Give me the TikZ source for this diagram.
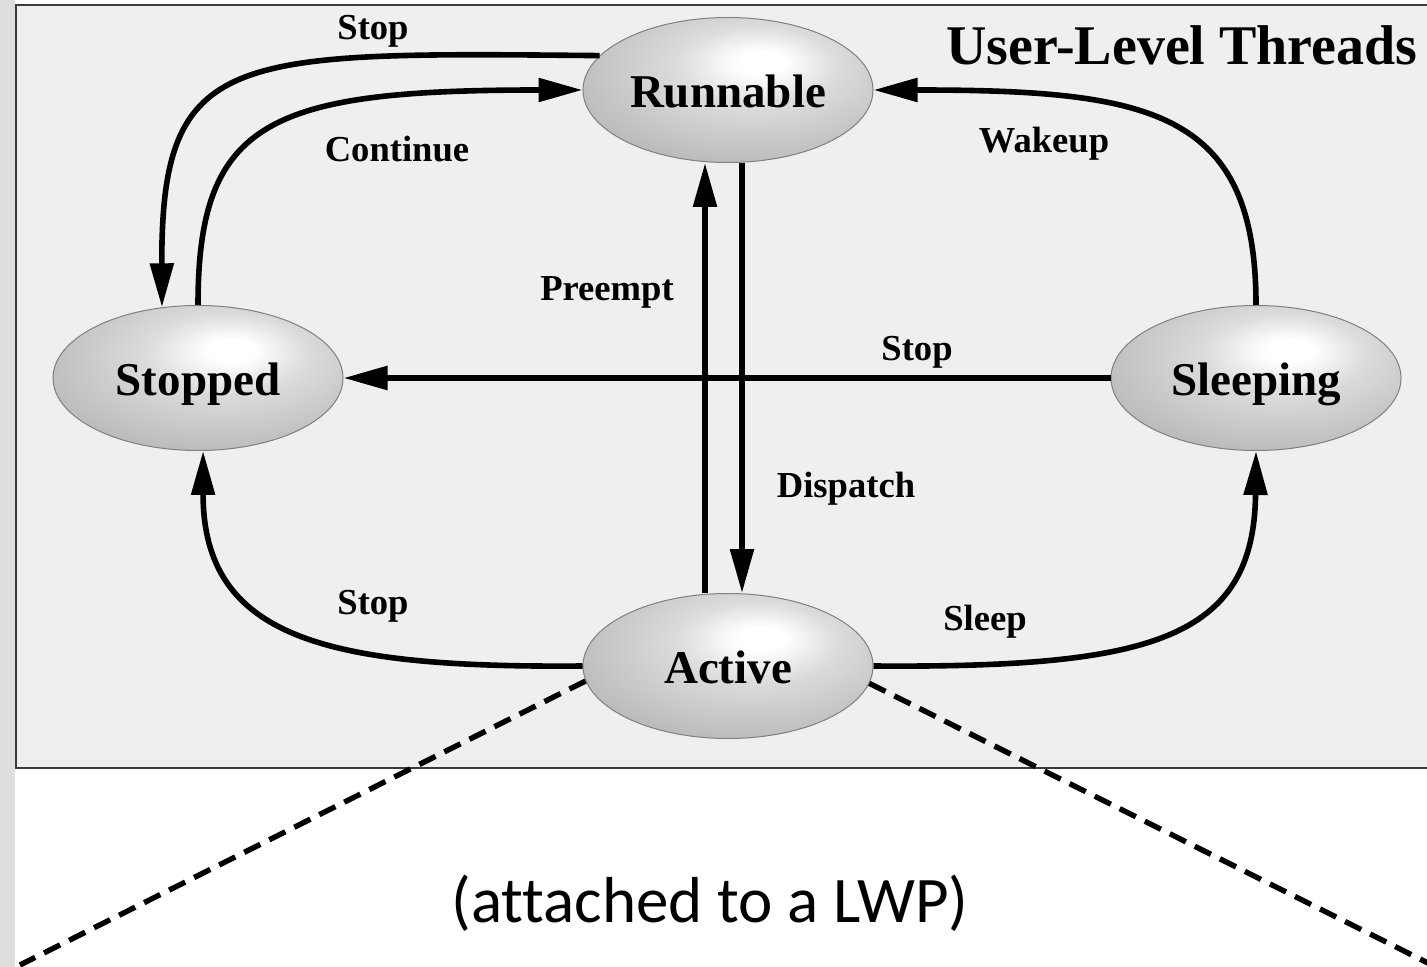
\documentclass[tikz,border=0pt]{standalone}
\usepackage{fontspec}
\setmainfont{Liberation Serif}
\newfontfamily\lwpfont[Ligatures=NoCommon]{Carlito}
\usetikzlibrary{arrows.meta,shapes.geometric,calc}
\definecolor{panel}{HTML}{EFEFEF}
\definecolor{strip}{HTML}{DCDEDF}
\definecolor{frame}{HTML}{3A3A3A}
\definecolor{rim}{HTML}{808080}
\pgfdeclareradialshading{glow}{\pgfpoint{6bp}{10bp}}{color(0bp)=(white); color(4bp)=(white); color(14bp)=(black!14); color(28bp)=(black!24); color(42bp)=(black!34); color(52bp)=(black!40); color(80bp)=(black!42)}
\begin{document}
\begin{tikzpicture}[x=0.5pt,y=-0.5pt,
  state/.style={ellipse, draw=rim, line width=0.5pt, shade, shading=glow,
    minimum width=145pt, minimum height=72.5pt, inner sep=0pt,
    font=\fontsize{23.5}{26}\selectfont\bfseries, text height=17.6pt, text depth=0pt},
  trans/.style={line width=2.8pt, -{Triangle[length=22pt,width=11.5pt]}},
  lbl/.style={font=\fontsize{18.3}{20}\selectfont\bfseries, anchor=base, inner sep=0pt},
  link/.style={line width=2.7pt, dash pattern=on 9pt off 5pt}]
\useasboundingbox (0,0) rectangle (1427,967);
\fill[white] (0,0) rectangle (1427,967);
\fill[strip] (0,0) rectangle (15,967);
\draw[frame, fill=panel, line width=1pt] (16,5) rectangle (1440,768);

\node[state] (Runnable) at (728,90) {Runnable};
\node[state] (Stopped) at (198,378) {Stopped};
\node[state] (Sleeping) at (1256,378) {Sleeping};
\node[state] (Active) at (728,666) {Active};

\node[font=\fontsize{28}{30}\selectfont\bfseries, anchor=base, inner sep=0pt] (title) at (1182,65) {User-Level Threads};

\draw[trans] (Runnable.165) .. controls (230,52) and (161,50) .. (Stopped.117);
\draw[trans] (Stopped.north) .. controls (198,120) and (270,90) .. (Runnable.west);
\draw[trans] (Sleeping.north) .. controls (1256,110) and (1150,90) .. (Runnable.east);
\draw[trans] (Sleeping.west) -- (Stopped.east);
\draw[trans] ($(Active.north)+(-23,0)$) -- ($(Runnable.south)+(-23,0)$);
\draw[trans] ($(Runnable.south)+(14,0)$) -- ($(Active.north)+(14,0)$);
\draw[trans] (Active.west) .. controls (330,668) and (203,640) .. (Stopped.-86);
\draw[trans] (Active.east) .. controls (1150,668) and (1254,640) .. (Sleeping.south);

\node[lbl] (l1) at (373,40) {Stop};
\node[lbl] (l2) at (397,162) {Continue};
\node[lbl] (l3) at (1044,153) {Wakeup};
\node[lbl] (l4) at (607,301) {Preempt};
\node[lbl] (l5) at (917,361) {Stop};
\node[lbl] (l6) at (846,497) {Dispatch};
\node[lbl] (l7) at (373,614) {Stop};
\node[lbl] (l8) at (985,630) {Sleep};

\coordinate (dl) at (20,965);
\coordinate (dr) at (1432,965);
\draw[link] (Active.186) -- (dl);
\draw[link] (Active.353) -- (dr);

\node[font=\lwpfont\fontsize{32.5}{34}\selectfont, anchor=base, inner sep=0pt] (lwp) at (710,922) {(attached to a LWP)};
\end{tikzpicture}
\end{document}
